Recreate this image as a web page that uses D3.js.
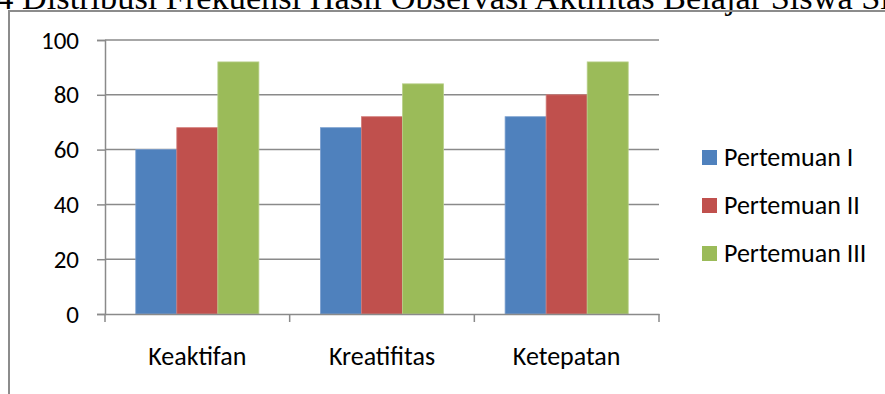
<!DOCTYPE html>
<html>
<head>
<meta charset="utf-8">
<script src="https://cdn.jsdelivr.net/npm/d3@7"></script>
<style>
html,body{margin:0;padding:0;background:#fff;overflow:hidden;}
svg{display:block;}
</style>
</head>
<body>
<svg id="chart" width="885" height="394"></svg>
<script>
// ---- data ----
const categories = ["Keaktifan", "Kreatifitas", "Ketepatan"];
const seriesNames = ["Pertemuan I", "Pertemuan II", "Pertemuan III"];
const pertemuanI = [60, 68, 72];
const pertemuanII = [68, 72, 80];
const pertemuanIII = [92, 84, 92];
const yTicks = [0, 20, 40, 60, 80, 100];
const titlePrefix = "4.4 ";
const titleText = "Distribusi Frekuensi Hasil Observasi Aktifitas Belajar Siswa Siklus I";
const colors = ["#4F81BD", "#C0504D", "#9BBB59"];
const edgeColors = ["#7a9fcf", "#d27a77", "#b8d08a"];

const seriesValues = [pertemuanI, pertemuanII, pertemuanIII];

const svg = d3.select("#chart");
const FONT = "Carlito, Lato, 'Open Sans', sans-serif";

// ---- title (cropped at top, as in the reference) ----
const title = svg.append("text")
  .attr("font-family", "'Liberation Serif', 'Times New Roman', serif")
  .attr("font-size", 29)
  .attr("fill", "#000")
  .attr("y", 9);
title.append("tspan").attr("class", "pre").text(titlePrefix);
title.append("tspan").attr("class", "main").text(titleText);
(function fitTitle(){
  const probe = svg.append("text")
    .attr("font-family", "'Liberation Serif', 'Times New Roman', serif")
    .attr("font-size", 100)
    .text("Distribusi Frekuensi Hasil Observasi Aktifitas Belajar Siswa ");
  const w = probe.node().getComputedTextLength();
  probe.remove();
  const fs = 100 * 831 / w;
  title.attr("font-size", fs);
  const preW = title.select(".pre").node().getComputedTextLength();
  title.attr("x", 22 - preW);
})();

// ---- outer chart frame (partially visible) ----
svg.append("path")
  .attr("d", "M9,394 L9,11 L885,11")
  .attr("fill", "none")
  .attr("stroke", "#8c8c8c")
  .attr("stroke-width", 2);

// ---- scales ----
const plot = {left: 105, right: 659, top: 40, bottom: 314};
const x0 = d3.scaleBand().domain(categories).range([plot.left, plot.right]).paddingInner(0).paddingOuter(0);
const x1 = d3.scaleBand().domain(seriesNames).range([0, x0.bandwidth()]).paddingOuter(0.75).paddingInner(0);
const y = d3.scaleLinear().domain([0, 100]).range([plot.bottom, plot.top]);

const gridColor = "#8a8a8a";

// gridlines
svg.append("g").selectAll("line").data(yTicks.filter(t => t > 0)).join("line")
  .attr("x1", plot.left).attr("x2", plot.right)
  .attr("y1", d => y(d)).attr("y2", d => y(d))
  .attr("stroke", gridColor).attr("stroke-width", 1.5);

// bars
const groups = svg.append("g").selectAll("g").data(categories).join("g")
  .attr("transform", d => `translate(${x0(d)},0)`);
groups.selectAll("rect")
  .data((c, ci) => seriesNames.map((s, si) => ({s, si, v: seriesValues[si][ci]})))
  .join("rect")
  .attr("x", d => x1(d.s))
  .attr("width", x1.bandwidth())
  .attr("y", d => y(d.v))
  .attr("height", d => y(0) - y(d.v))
  .attr("fill", d => colors[d.si])
  .attr("stroke", d => edgeColors[d.si])
  .attr("stroke-width", 0.8);

// y axis
const yAxis = d3.axisLeft(y).tickValues(yTicks).tickSize(8).tickPadding(18).tickFormat(d3.format("d"));
const gy = svg.append("g").attr("transform", `translate(${plot.left},0)`).call(yAxis);
gy.select(".domain").attr("stroke", gridColor).attr("stroke-width", 1.5);
gy.selectAll(".tick line").attr("stroke", gridColor).attr("stroke-width", 1.5);
gy.selectAll(".tick text").attr("font-family", FONT).attr("font-size", 25).attr("fill", "#000");

// x axis
const xAxis = d3.axisBottom(x0).tickSize(0).tickPadding(33);
const gx = svg.append("g").attr("transform", `translate(0,${plot.bottom})`).call(xAxis);
gx.select(".domain").attr("stroke", gridColor).attr("stroke-width", 1.5);
gx.selectAll(".tick text").attr("font-family", FONT).attr("font-size", 26).attr("fill", "#000");
// category boundary ticks
const bounds = categories.map(c => x0(c)).concat([x0(categories[categories.length-1]) + x0.bandwidth()]);
gx.selectAll(".bound").data(bounds).join("line").attr("class", "bound")
  .attr("x1", d => d).attr("x2", d => d).attr("y1", 0).attr("y2", 8)
  .attr("stroke", gridColor).attr("stroke-width", 1.5);

// legend
const legend = svg.append("g").attr("transform", "translate(702,150)");
const li = legend.selectAll("g").data(seriesNames).join("g")
  .attr("transform", (d, i) => `translate(0,${i * 48})`);
li.append("rect").attr("width", 15).attr("height", 15).attr("fill", (d, i) => colors[i]);
li.append("text").attr("x", 22).attr("y", 16)
  .attr("font-family", FONT).attr("font-size", 26).attr("fill", "#000")
  .text(d => d);
</script>
</body>
</html>
